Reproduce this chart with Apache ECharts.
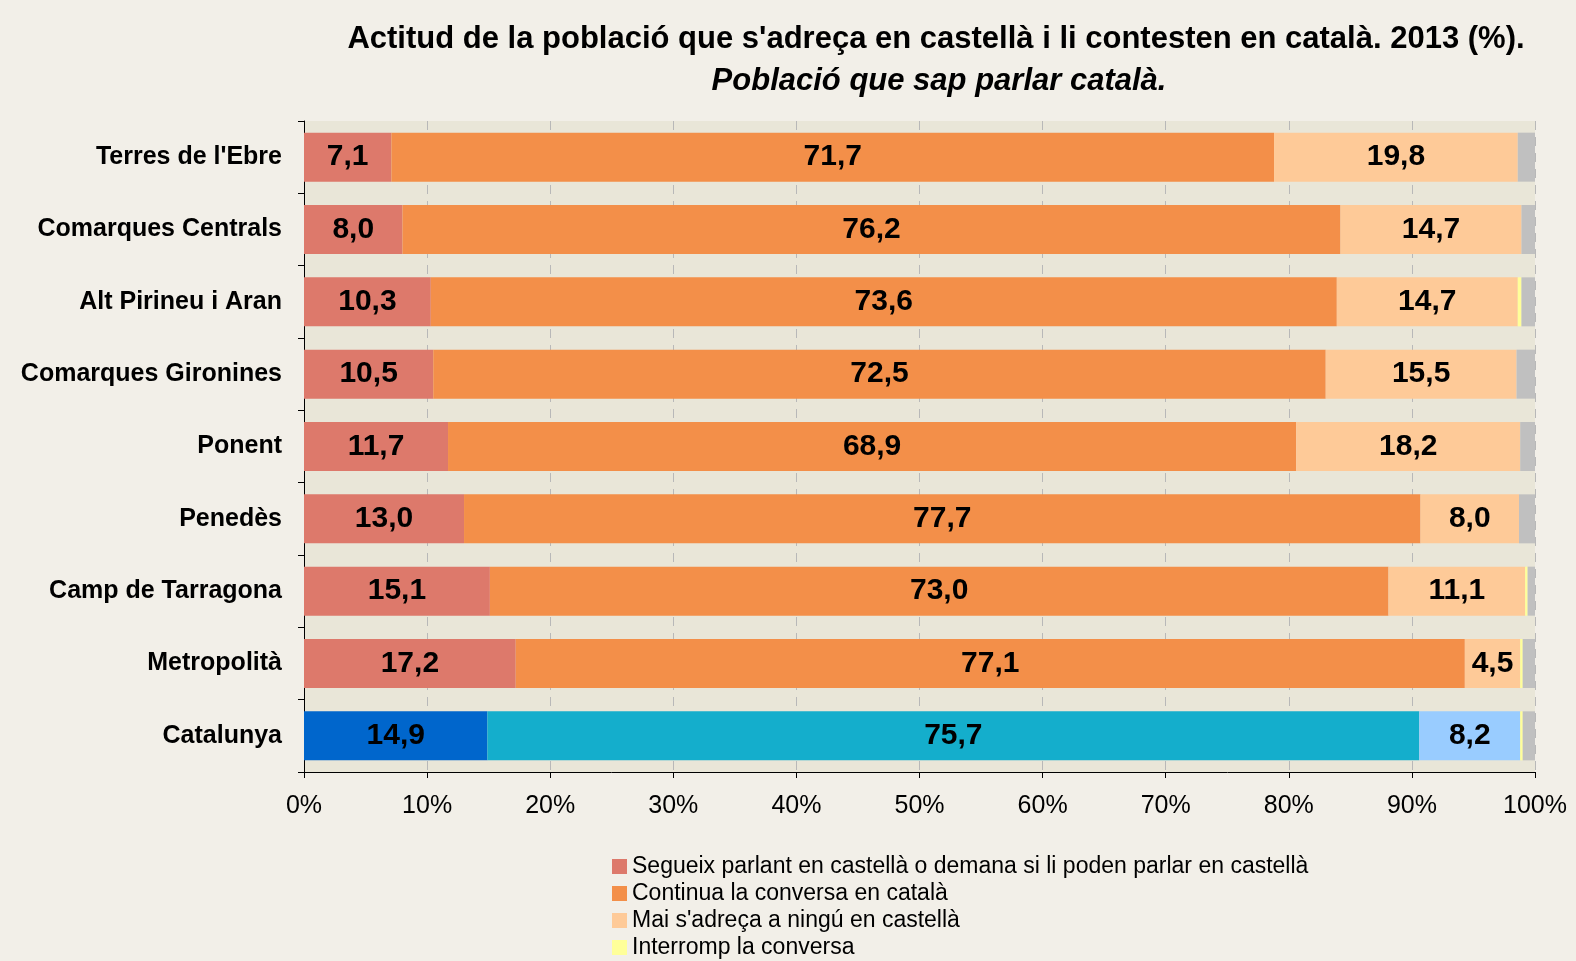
<!DOCTYPE html>
<html>
<head>
<meta charset="utf-8">
<script src="https://cdn.jsdelivr.net/npm/echarts@6/dist/echarts.min.js"></script>
<style>
    html, body { margin: 0; padding: 0; background: #F2EFE8; }
    #chart { width: 1576px; height: 961px; }
</style>
</head>
<body>
<div id="chart"></div>
<script>
// Categories, top to bottom
const regions = ["Terres de l'Ebre", 'Comarques Centrals', 'Alt Pirineu i Aran', 'Comarques Gironines',
    'Ponent', 'Penedès', 'Camp de Tarragona', 'Metropolità', 'Catalunya'];

// Series values (%)
const segueix = [7.1, 8.0, 10.3, 10.5, 11.7, 13.0, 15.1, 17.2, 14.9];
const continua = [71.7, 76.2, 73.6, 72.5, 68.9, 77.7, 73.0, 77.1, 75.7];
const mai = [19.8, 14.7, 14.7, 15.5, 18.2, 8.0, 11.1, 4.5, 8.2];
const interromp = [0, 0, 0.3, 0, 0, 0, 0.2, 0.2, 0.2];
const nsnc = [1.4, 1.1, 1.1, 1.5, 1.2, 1.3, 0.6, 1.0, 1.0];

const seriesNames = [
    'Segueix parlant en castellà o demana si li poden parlar en castellà',
    'Continua la conversa en català',
    "Mai s'adreça a ningú en castellà",
    'Interromp la conversa',
    'NS/NC'
];
const seriesValues = [segueix, continua, mai, interromp, nsnc];

// Colours: regions and the Catalunya total bar
const colors = ['#DD796B', '#F38F49', '#FECA98', '#FFFF99', '#C0C0C0'];
const catColors = ['#0066CC', '#14AECC', '#99CCFF', '#FFFF99', '#C0C0C0'];

const chartInstance = echarts.init(document.getElementById('chart'));

const fmt = p => p.value.toFixed(1).replace('.', ',');

const series = seriesValues.map((values, s) => ({
    name: seriesNames[s],
    type: 'bar',
    stack: 'total',
    barWidth: 49,
    itemStyle: { color: colors[s] },
    label: {
        show: s < 3,
        position: 'inside',
        formatter: fmt,
        color: '#000',
        fontSize: 30,
        fontWeight: 'bold',
        fontFamily: 'Liberation Sans, Arial'
    },
    // the Catalunya bar gets its own palette
    data: values.map((v, i) => regions[i] === 'Catalunya'
        ? { value: v, itemStyle: { color: catColors[s] } }
        : v)
}));

const option = {
    backgroundColor: '#F2EFE8',
    textStyle: { fontFamily: 'Liberation Sans, Arial' },
    title: [
        {
            text: "Actitud de la població que s'adreça en castellà i li contesten en català. 2013 (%).",
            left: 931,
            top: 19,
            textAlign: 'center',
            textStyle: { fontSize: 31, fontWeight: 'bold', color: '#000' }
        },
        {
            text: 'Població que sap parlar català.',
            left: 934,
            top: 61,
            textAlign: 'center',
            textStyle: { fontSize: 31, fontWeight: 'bold', fontStyle: 'italic', color: '#000' }
        }
    ],
    legend: {
        data: seriesNames.slice(0, 4),
        orient: 'vertical',
        left: 612,
        top: 855,
        height: 110,
        padding: 0,
        itemWidth: 15,
        itemHeight: 15,
        itemGap: 4,
        icon: 'rect',
        textStyle: { fontSize: 23, color: '#000' }
    },
    grid: {
        left: 304,
        right: 41,
        top: 121,
        bottom: 189,
        show: true,
        backgroundColor: '#E9E6D8',
        borderWidth: 0
    },
    xAxis: {
        type: 'value',
        min: 0,
        max: 100,
        interval: 10,
        axisLine: { show: true, lineStyle: { color: '#000' } },
        axisTick: { show: true, length: 6, lineStyle: { color: '#000' } },
        axisLabel: { formatter: '{value}%', fontSize: 25, color: '#000', margin: 22 },
        splitLine: { show: true, lineStyle: { color: '#B8B8B8', type: [9, 7] } }
    },
    yAxis: {
        type: 'category',
        inverse: true,
        data: regions,
        axisLine: { show: true, lineStyle: { color: '#000' } },
        axisTick: { show: true, length: 6, lineStyle: { color: '#000' } },
        axisLabel: { fontSize: 25, fontWeight: 'bold', color: '#000', margin: 22 }
    },
    series: series
};

chartInstance.setOption(option);
window.addEventListener('resize', chartInstance.resize);
</script>
</body>
</html>
